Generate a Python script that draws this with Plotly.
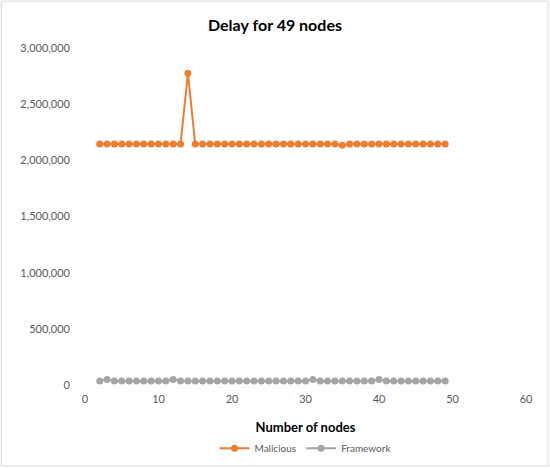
import plotly.graph_objects as go

nodes = list(range(2, 50))
malicious = [2145000] * 48
malicious[14 - 2] = 2775000
malicious[35 - 2] = 2135000
framework = [35000] * 48
for n in (3, 12, 31, 40):
    framework[n - 2] = 50000

FONT = "Lato"
fig = go.Figure()
fig.add_trace(go.Scatter(x=nodes, y=malicious, mode="lines+markers", name="Malicious",
                         line=dict(color="#ED7D31", width=2), marker=dict(size=7, color="#ED7D31")))
fig.add_trace(go.Scatter(x=nodes, y=framework, mode="lines+markers", name="Framework",
                         line=dict(color="#A5A5A5", width=2), marker=dict(size=7, color="#A5A5A5")))

fig.update_layout(
    width=550, height=468,
    margin=dict(l=85, r=24, t=48, b=83, autoexpand=False),
    paper_bgcolor="white", plot_bgcolor="white",
    font=dict(family=FONT, size=11, color="#595959"),
    title=dict(text="<b>Delay for 49 nodes</b>", x=0.5, xanchor="center", y=0.945, yanchor="middle",
               font=dict(family=FONT, size=16, color="#000000")),
    xaxis=dict(range=[0, 60], dtick=10, showgrid=False, zeroline=False, showline=False, automargin=False,
               ticks="", ticklabelstandoff=6,
               title=dict(text="<b>Number of nodes</b>", font=dict(family=FONT, size=13, color="#000000"), standoff=18)),
    yaxis=dict(range=[0, 3000000], dtick=500000, tickformat=",d", showgrid=False, zeroline=False,
               showline=False, ticks="", ticklabelstandoff=14, automargin=False),
    legend=dict(orientation="h", x=0.5, xanchor="center", y=-0.145, yanchor="top",
                font=dict(family=FONT, size=10, color="#595959"), itemwidth=30),
    showlegend=True,
)
fig.add_shape(type="rect", xref="paper", yref="paper", x0=-0.19, x1=1.05, y0=-0.24, y1=1.139,
              line=dict(color="#D9D9D9", width=1), fillcolor="rgba(0,0,0,0)", layer="below")
fig.write_html("out.html", post_script="document.body.style.margin='0';",
               config={"displayModeBar": False})
